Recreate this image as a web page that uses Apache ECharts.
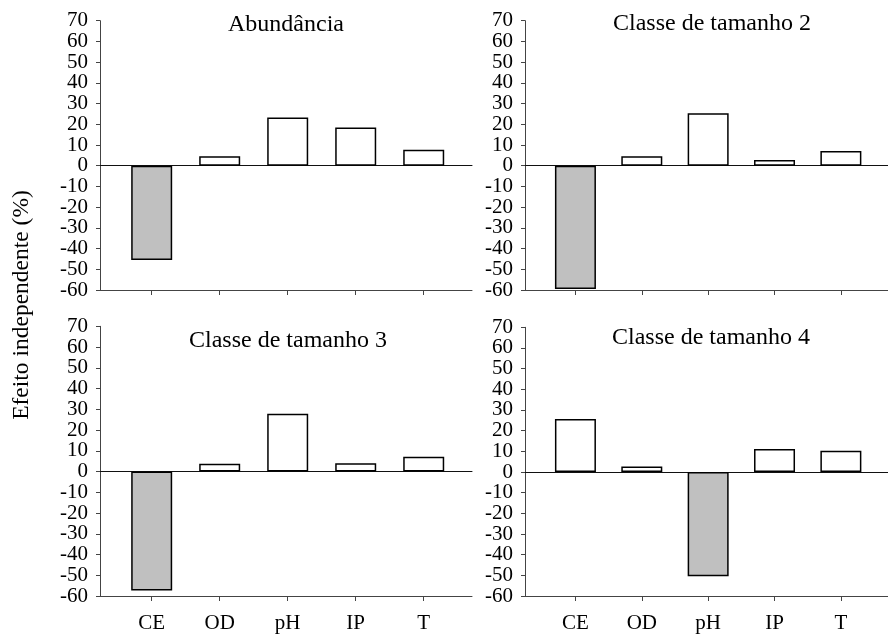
<!DOCTYPE html>
<html>
<head>
<meta charset="utf-8">
<script src="https://cdn.jsdelivr.net/npm/echarts@6/dist/echarts.min.js"></script>
<style>
html,body{margin:0;padding:0;background:#fff;}
#chart{width:888px;height:634px;}
</style>
</head>
<body>
<div id="chart"></div>
<script>
// ---- data ----
const categories = ['CE', 'OD', 'pH', 'IP', 'T'];
const panelTitles = ['Abundância', 'Classe de tamanho 2', 'Classe de tamanho 3', 'Classe de tamanho 4'];
const abundancia = [-45.5, 4.6, 23.3, 18.4, 7.7];
const classe2 = [-59.5, 4.6, 25.3, 2.7, 7.1];
const classe3 = [-57.4, 3.7, 27.8, 4.0, 7.1];
const classe4 = [25.6, 2.6, -50.5, 11.1, 10.3];
const yMin = -60, yMax = 70, yStep = 10;
const yTickValues = [-60, -50, -40, -30, -20, -10, 0, 10, 20, 30, 40, 50, 60, 70];
const yAxisName = 'Efeito independente (%)';

// ---- layout ----
const panels = [abundancia, classe2, classe3, classe4];
const grids = [
  {left: 100, top: 20.7, width: 372, height: 269.3},
  {left: 525, top: 20.7, width: 372, height: 269.3},
  {left: 100, top: 326.3, width: 372, height: 270},
  {left: 525, top: 327.3, width: 372, height: 269.4}
];
const titlePos = [
  {x: 286, top: 13.2},
  {x: 712, top: 12},
  {x: 288, top: 328.4},
  {x: 711, top: 325.8}
];
const font = 'Liberation Serif';
const xMin = -0.76, xMax = 4.71;
const catIdx = categories.map((c, i) => i);
// labels split over two overlapping axes so none is hidden by overlap checks
const yLabelsA = yTickValues.filter((v, i) => i % 2 === 0);
const yLabelsB = yTickValues.filter((v, i) => i % 2 === 1);

const xAxes = [], yAxes = [], series = [], titles = [];
panels.forEach((vals, g) => {
  // zero line axis
  xAxes.push({
    type: 'value', gridIndex: g, min: xMin, max: xMax, position: 'bottom',
    axisLine: {show: true, onZero: true, onZeroAxisIndex: 2 * g, lineStyle: {color: '#111', width: 1}},
    axisTick: {show: false}, axisLabel: {show: false}, splitLine: {show: false}
  });
  // bottom axis with ticks/labels
  xAxes.push({
    type: 'value', gridIndex: g, min: xMin, max: xMax, position: 'bottom',
    axisLine: {show: true, onZero: false, lineStyle: {color: '#444', width: 1}},
    axisTick: {show: true, customValues: catIdx, length: 5, lineStyle: {color: '#444'}},
    axisLabel: {
      show: g >= 2, customValues: catIdx, margin: 17,
      formatter: v => categories[Math.round(v)] || '',
      fontFamily: font, fontSize: 21, color: '#000'
    },
    splitLine: {show: false}
  });
  const yBase = {
    type: 'value', gridIndex: g, min: yMin, max: yMax, interval: yStep, position: 'left', offset: 0,
    splitLine: {show: false}
  };
  yAxes.push(Object.assign({}, yBase, {
    axisLine: {show: true, onZero: false, lineStyle: {color: '#444', width: 1}},
    axisTick: {show: true, length: 4, customValues: yTickValues, lineStyle: {color: '#444'}},
    axisLabel: {fontFamily: font, fontSize: 21, color: '#000', margin: 12,
                customValues: yLabelsA, showMinLabel: true, showMaxLabel: true}
  }));
  yAxes.push(Object.assign({}, yBase, {
    axisLine: {show: false, onZero: false},
    axisTick: {show: false},
    axisLabel: {fontFamily: font, fontSize: 21, color: '#000', margin: 12,
                customValues: yLabelsB, showMinLabel: true, showMaxLabel: true}
  }));
  series.push({
    type: 'bar', xAxisIndex: 2 * g + 1, yAxisIndex: 2 * g,
    barWidth: 41,
    data: vals.map((v, i) => [i, v]),
    itemStyle: {
      color: p => (p.value[1] < 0 ? '#c0c0c0' : '#ffffff'),
      borderColor: '#000', borderWidth: 1.5
    },
    silent: true, animation: false
  });
  titles.push({
    text: panelTitles[g], left: titlePos[g].x, top: titlePos[g].top,
    textAlign: 'center', padding: 0,
    textStyle: {fontFamily: font, fontSize: 24, fontWeight: 'normal', color: '#000'}
  });
});

const chart = echarts.init(document.getElementById('chart'));
chart.setOption({
  animation: false,
  backgroundColor: '#fff',
  title: titles,
  grid: grids,
  xAxis: xAxes,
  yAxis: yAxes,
  series: series,
  graphic: [{
    type: 'text', x: 22, y: 305, rotation: Math.PI / 2,
    style: {text: yAxisName, font: '23.5px "Liberation Serif"', fill: '#000',
            textAlign: 'center', textVerticalAlign: 'middle'}
  }]
});
</script>
</body>
</html>
